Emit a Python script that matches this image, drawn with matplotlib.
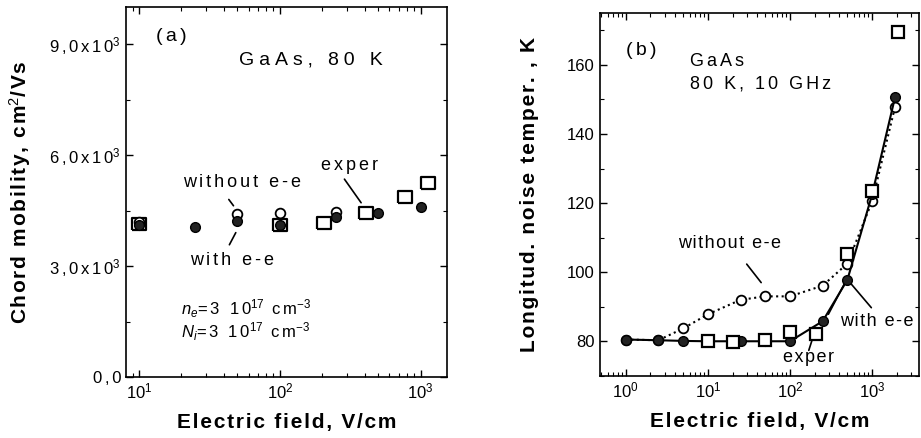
import matplotlib
matplotlib.use("Agg")
import matplotlib.pyplot as plt
import numpy as np
from matplotlib.ticker import LogLocator, MultipleLocator, FixedLocator, NullFormatter

plt.rcParams['font.family'] = ['Liberation Sans', 'DejaVu Sans']
plt.rcParams['mathtext.fontset'] = 'custom'
plt.rcParams['mathtext.rm'] = 'Liberation Sans'
plt.rcParams['mathtext.it'] = 'Liberation Sans:italic'

# panel (a): chord mobility vs field
a_with_x = [10, 25, 50, 100, 250, 500, 1000]
a_with_y = [4110, 4055, 4215, 4120, 4325, 4430, 4595]
a_without_x = [10, 50, 100, 250]
a_without_y = [4200, 4405, 4435, 4460]
a_exp_x = [10, 100, 205, 410, 780, 1120]
a_exp_y = [4130, 4110, 4160, 4435, 4865, 5245]

a_yticks = [0, 3000, 6000, 9000]
a_ylabels = ['0,0', '3,0x10$^3$', '6,0x10$^3$', '9,0x10$^3$']

# panel (b): longitudinal noise temperature vs field
b_with_x = [1, 2.5, 5, 10, 25, 50, 100, 250, 500, 1000, 1900]
b_with_y = [80.5, 80.3, 80.1, 80.0, 80.0, 80.0, 80.0, 85.8, 97.8, 122.5, 150.6]
b_without_x = [1, 2.5, 5, 10, 25, 50, 100, 250, 500, 1000, 1900]
b_without_y = [80.5, 80.3, 83.7, 87.8, 92.0, 93.0, 93.0, 96.1, 102.5, 120.5, 147.8]
b_exp_x = [10, 20, 50, 100, 205, 500, 1000, 2050]
b_exp_y = [80.0, 79.8, 80.5, 82.7, 82.2, 105.3, 123.5, 169.4]

HS = '\u200a'  # hair space, used to widen letter spacing like the scan


def track(s, n=1):
    # put hair spaces between letters, but not inside $...$ parts
    parts = s.split('$')
    for i in range(0, len(parts), 2):
        parts[i] = (HS * n).join(parts[i])
    return '$'.join(parts)


rect = [(-1.25, -1), (1.25, -1), (1.25, 1), (-1.25, 1), (-1.25, -1)]

fig = plt.figure(figsize=(9.21, 4.38), dpi=100)
axa = fig.add_axes([0.137, 0.139, 0.348, 0.845])
axb = fig.add_axes([0.651, 0.142, 0.347, 0.828])

for ax in (axa, axb):
    ax.set_xscale('log')
    ax.tick_params(which='both', direction='in', top=True, right=True, labelsize=12)
    ax.tick_params(which='major', length=5, width=1)
    ax.tick_params(which='minor', length=3, width=0.8)
    ax.xaxis.set_major_locator(LogLocator(base=10))
    ax.xaxis.set_minor_locator(LogLocator(base=10, subs=np.arange(2, 10)))
    ax.xaxis.set_minor_formatter(NullFormatter())
    for s in ax.spines.values():
        s.set_linewidth(1.2)

# ---- (a)
axa.plot(a_exp_x, a_exp_y, linestyle='none', marker=rect, markersize=10,
         mfc='white', mec='black', mew=1.6, zorder=3)
axa.plot(a_without_x, a_without_y, linestyle='none', marker='o', markersize=7,
         mfc='white', mec='black', mew=1.3, zorder=4)
axa.plot(a_with_x, a_with_y, linestyle='none', marker='o', markersize=7,
         mfc='#222222', mec='black', mew=1.0, zorder=5)
axa.set_xlim(8.1, 1530)
axa.set_ylim(0, 10000)
axa.yaxis.set_major_locator(FixedLocator(a_yticks))
axa.set_yticklabels([track(t, 2) for t in a_ylabels])
axa.yaxis.set_minor_locator(MultipleLocator(1500))
axa.set_xlabel(track('Electric field, V/cm'), fontsize=15, fontweight='bold', labelpad=8)
axa.set_ylabel(track('Chord mobility, cm$^2$/Vs'), fontsize=15, fontweight='bold', labelpad=12)

axa.text(0.14, 0.919, track('(a)', 2), transform=axa.transAxes, fontsize=14, ha='center', va='center')
axa.text(0.576, 0.857, track('GaAs, 80 K', 3), transform=axa.transAxes, fontsize=14, ha='center', va='center')
axa.text(0.698, 0.573, track('exper', 2), transform=axa.transAxes, fontsize=13, ha='center', va='center')
axa.annotate('', xy=(0.738, 0.465), xytext=(0.676, 0.541), xycoords='axes fraction',
             arrowprops=dict(arrowstyle='-', lw=1.2, color='black'))
axa.text(0.361, 0.527, track('without e-e', 2), transform=axa.transAxes, fontsize=13, ha='center', va='center')
axa.annotate('', xy=(0.340, 0.457), xytext=(0.315, 0.486), xycoords='axes fraction',
             arrowprops=dict(arrowstyle='-', lw=1.2, color='black'))
axa.text(0.330, 0.316, track('with e-e', 2), transform=axa.transAxes, fontsize=13, ha='center', va='center')
axa.annotate('', xy=(0.346, 0.397), xytext=(0.318, 0.351), xycoords='axes fraction',
             arrowprops=dict(arrowstyle='-', lw=1.2, color='black'))
axa.text(0.17, 0.186, track(r'$n_e$=3 10$^{17}$ cm$^{-3}$', 2), transform=axa.transAxes,
         fontsize=12, ha='left', va='center')
axa.text(0.17, 0.122, track(r'$N_i$=3 10$^{17}$ cm$^{-3}$', 2), transform=axa.transAxes,
         fontsize=12, ha='left', va='center')

# ---- (b)
axb.plot(b_without_x, b_without_y, linestyle=':', color='black', lw=1.5, marker='o',
         markersize=7, mfc='white', mec='black', mew=1.3, zorder=3)
axb.plot(b_with_x, b_with_y, linestyle='-', color='black', lw=1.5, marker='o',
         markersize=7, mfc='#222222', mec='black', mew=1.0, zorder=4)
axb.plot(b_exp_x, b_exp_y, linestyle='none', marker='s', markersize=8.5,
         mfc='white', mec='black', mew=1.6, zorder=5)
axb.set_xlim(0.48, 3740)
axb.set_ylim(70, 175)
axb.yaxis.set_major_locator(MultipleLocator(20))
axb.yaxis.set_minor_locator(MultipleLocator(10))
axb.set_yticks([80, 100, 120, 140, 160])
axb.set_xlabel(track('Electric field, V/cm'), fontsize=15, fontweight='bold', labelpad=8)
axb.set_ylabel(track('Longitud. noise temper. , K'), fontsize=15, fontweight='bold', labelpad=20)

axb.text(0.129, 0.898, track('(b)', 2), transform=axb.transAxes, fontsize=14, ha='center', va='center')
axb.text(0.282, 0.836, track('GaAs', 2) + '\n' + track('80 K, 10 GHz', 2), transform=axb.transAxes,
         fontsize=13, ha='left', va='center', linespacing=1.4)
axb.text(0.408, 0.366, track('without e-e', 1), transform=axb.transAxes, fontsize=13, ha='center', va='center')
axb.annotate('', xy=(0.511, 0.251), xytext=(0.455, 0.314), xycoords='axes fraction',
             arrowprops=dict(arrowstyle='-', lw=1.2, color='black'))
axb.text(0.868, 0.149, track('with e-e', 1), transform=axb.transAxes, fontsize=13, ha='center', va='center')
axb.annotate('', xy=(0.774, 0.267), xytext=(0.712, 0.163), xycoords='axes fraction',
             arrowprops=dict(arrowstyle='-', lw=1.2, color='black'))
axb.annotate('', xy=(0.774, 0.267), xytext=(0.856, 0.182), xycoords='axes fraction',
             arrowprops=dict(arrowstyle='-', lw=1.2, color='black'))
axb.text(0.655, 0.050, track('exper', 1), transform=axb.transAxes, fontsize=13, ha='center', va='center')
axb.annotate('', xy=(0.668, 0.107), xytext=(0.652, 0.063), xycoords='axes fraction',
             arrowprops=dict(arrowstyle='-', lw=1.2, color='black'))

fig.savefig('out.png', dpi=100)
